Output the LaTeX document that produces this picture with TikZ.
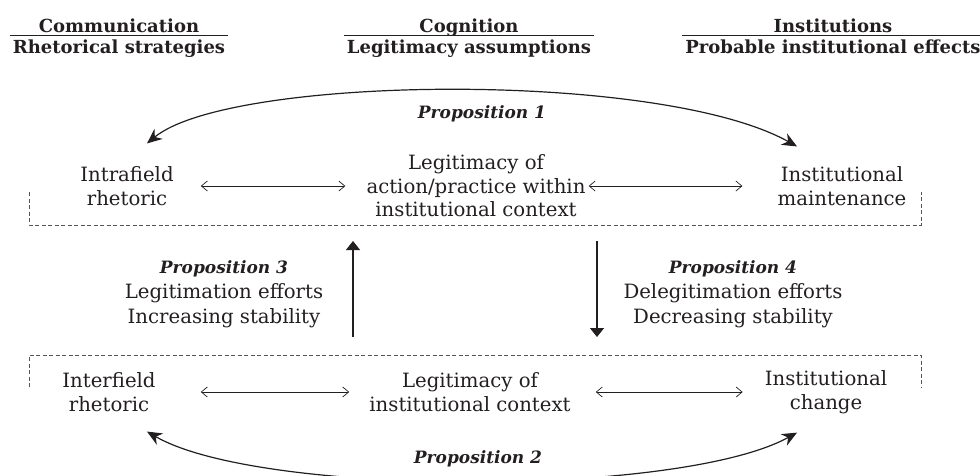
\documentclass[tikz,border=0pt]{standalone}
\usepackage{fontspec}
\setmainfont{DejaVu Serif}
\usepackage{tikz}
\usetikzlibrary{arrows.meta}
\definecolor{ink}{HTML}{231F20}
\definecolor{frame}{HTML}{555555}
\tikzset{
  lbl/.style={text=ink, align=center, font=\fontsize{19.7}{23.5}\selectfont, inner sep=2pt},
  hd/.style={text=ink, font=\fontsize{18}{21}\selectfont\bfseries, inner xsep=3pt, inner ysep=0pt, anchor=base},
  prop/.style={text=ink, align=center, font=\fontsize{19.7}{25}\selectfont, inner sep=2pt},
  pname/.style={text=ink, font=\fontsize{17}{21}\selectfont\bfseries\itshape, anchor=base},
  link/.style={draw=ink, line width=0.7pt, {Straight Barb[length=6pt,width=10pt]}-{Straight Barb[length=6pt,width=10pt]}},
  flow/.style={draw=ink, line width=1.2pt, -{Triangle[length=9pt,width=14pt]}},
  arc/.style={draw=ink, line width=1.2pt, {Stealth[length=15pt,width=13pt]}-{Stealth[length=15pt,width=13pt]}},
  box/.style={draw=frame, line width=0.7pt, dash pattern=on 4pt off 2.5pt}
}

\begin{document}
\begin{tikzpicture}[x=1pt,y=-1pt]
\useasboundingbox (0,0) rectangle (980,475);
% column heads
\coordinate (rule) at (0,35);
\node[hd] (hcomt) at (119,32) {Communication};
\node[hd] (hcomb) at (119,53) {Rhetorical strategies};
\node[hd] (hcogt) at (469,32) {Cognition};
\node[hd] (hcogb) at (469,53) {Legitimacy assumptions};
\node[hd] (hinst) at (833,32) {Institutions};
\node[hd] (hinsb) at (833,53) {Probable institutional effects};
\draw[ink, line width=1pt] (hcomb.west |- rule) -- (hcomb.east |- rule);
\draw[ink, line width=1pt] (hcogb.west |- rule) -- (hcogb.east |- rule);
\draw[ink, line width=1pt] (hinsb.west |- rule) -- (hinsb.east |- rule);
% dashed frames
\draw[box] (29,192) -- (29,225) -- (921,225) -- (921,192);
\draw[box] (29,387) -- (29,355) -- (921,355) -- (921,387);
% top row
\node[lbl] (intra) at (127,186) {Intrafield\\rhetoric};
\node[lbl] (actlegit) at (476,186) {Legitimacy of\\action/practice within\\institutional context};
\node[lbl] (maint) at (842,186) {Institutional\\maintenance};
\draw[link, shorten <=25pt, shorten >=19pt] (intra) -- (actlegit);
\draw[link, shorten <=1pt, shorten >=33pt] (actlegit) -- (maint);
% bottom row
\node[lbl] (inter) at (109,392) {Interfield\\rhetoric};
\node[lbl] (ctxlegit) at (470,392) {Legitimacy of\\institutional context};
\node[lbl] (change) at (826,392) {Institutional\\change};
\draw[link, shorten <=43pt, shorten >=18pt] (inter) -- (ctxlegit);
\draw[link, shorten <=23pt, shorten >=20pt] (ctxlegit) -- (change);
% propositions 1 and 2
\node[pname] (prop1) at (482,118) {Proposition 1};
\node[pname] (prop2) at (478,463) {Proposition 2};
\draw[arc] ([shift={(20,-21)}]intra.north) .. controls (230,75) and (660,70) .. ([shift={(-45,-18)}]maint.north);
\draw[arc] ([shift={(38,18)}]inter.south) .. controls (260,497) and (680,497) .. ([shift={(-29,17)}]change.south);
% propositions 3 and 4
\node[prop] (prop3) at (224,294) {{\fontsize{17}{25}\selectfont\bfseries\itshape Proposition 3}\\Legitimation efforts\\Increasing stability};
\node[prop] (prop4) at (733,294) {{\fontsize{17}{25}\selectfont\bfseries\itshape Proposition 4}\\Delegitimation efforts\\Decreasing stability};
\coordinate (upfoot) at (353,337);
\coordinate (uphead) at (353,241);
\coordinate (dnfoot) at (597,241);
\coordinate (dnhead) at (597,337);
\draw[flow] (upfoot) -- (uphead);
\draw[flow] (dnfoot) -- (dnhead);
\end{tikzpicture}
\end{document}
